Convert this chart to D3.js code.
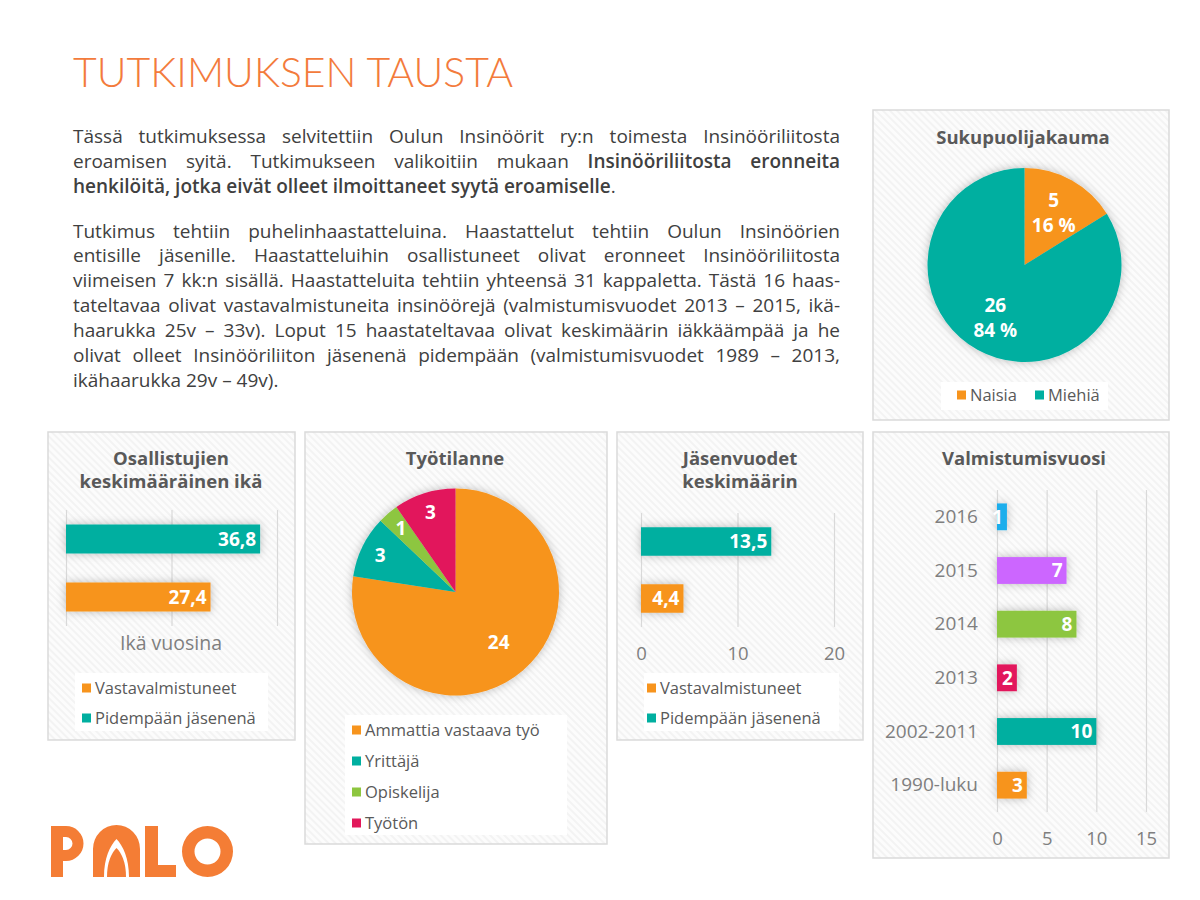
<!DOCTYPE html>
<html>
<head>
<meta charset="utf-8">
<script src="https://cdn.jsdelivr.net/npm/d3@7"></script>
<style>
  body { margin: 0; background: #fff; }
  svg text { font-family: "Open Sans", "DejaVu Sans", sans-serif; }
</style>
</head>
<body>
<svg width="1200" height="900"></svg>
<script>
// data
var genderLabels = ["Naisia", "Miehiä"];
var genderValues = [5, 26];

var jobLabels = ["Ammattia vastaava työ", "Yrittäjä", "Opiskelija", "Työtön"];
var jobValues = [24, 3, 1, 3];

var groupLabels = ["Vastavalmistuneet", "Pidempään jäsenenä"];
var ageValues = [27.4, 36.8];
var memberValues = [4.4, 13.5];

var gradLabels = ["2016", "2015", "2014", "2013", "2002-2011", "1990-luku"];
var gradValues = [1, 7, 8, 2, 10, 3];

var ageTicks = [0, 20, 40],
    memberTicks = [0, 10, 20],
    gradTicks = [0, 5, 10, 15];

var orange = "#F7941D", teal = "#00AFA0", green = "#8DC63F",
    red = "#E2185B", purple = "#CC66FF", blue = "#1CAEEC";
var groupColors = [orange, teal],
    jobColors = [orange, teal, green, red],
    gradColors = [blue, purple, green, red, teal, orange];

var grey = "#595959", logoOrange = "#F47D35";

var svg = d3.select("svg");
var defs = svg.append("defs");

var hatch = defs.append("pattern")
    .attr("id", "hatch")
    .attr("patternUnits", "userSpaceOnUse")
    .attr("width", 5).attr("height", 5)
    .attr("patternTransform", "rotate(-45)");
hatch.append("rect").attr("width", 5).attr("height", 5).attr("fill", "#fcfcfc");
hatch.append("line").attr("x1", 1).attr("x2", 1).attr("y1", 0).attr("y2", 5)
    .attr("stroke", "#f0f0f0").attr("stroke-width", 1.5);

defs.append("filter")
    .attr("id", "shadow")
    .attr("x", "-30%").attr("y", "-40%").attr("width", "160%").attr("height", "180%")
  .append("feDropShadow")
    .attr("dx", 0).attr("dy", 0).attr("stdDeviation", 5)
    .attr("flood-color", "#000").attr("flood-opacity", 0.26);

function fmt(v) { return String(v).replace(".", ","); }

// ---- title + text ----
svg.append("text")
    .attr("x", 73).attr("y", 87)
    .attr("textLength", 440).attr("lengthAdjust", "spacingAndGlyphs")
    .style("font-family", "Lato, 'Open Sans', sans-serif")
    .style("font-weight", 300)
    .style("font-size", "42px")
    .attr("fill", "#F37B3C")
    .text("TUTKIMUKSEN TAUSTA");

var textX = 73, textW = 767;
var textLines = [
  {y: 143, just: true, seg: [["Tässä tutkimuksessa selvitettiin Oulun Insinöörit ry:n toimesta Insinööriliitosta", 0]]},
  {y: 168, just: true, seg: [["eroamisen syitä. Tutkimukseen valikoitiin mukaan ", 0], ["Insinööriliitosta eronneita", 1]]},
  {y: 193, just: false, seg: [["henkilöitä, jotka eivät olleet ilmoittaneet syytä eroamiselle", 1], [".", 0]]},
  {y: 238, just: true, seg: [["Tutkimus tehtiin puhelinhaastatteluina. Haastattelut tehtiin Oulun Insinöörien", 0]]},
  {y: 262, just: true, seg: [["entisille jäsenille. Haastatteluihin osallistuneet olivat eronneet Insinööriliitosta", 0]]},
  {y: 287, just: true, seg: [["viimeisen 7 kk:n sisällä. Haastatteluita tehtiin yhteensä 31 kappaletta. Tästä 16 haas-", 0]]},
  {y: 312, just: true, seg: [["tateltavaa olivat vastavalmistuneita insinöörejä (valmistumisvuodet 2013 – 2015, ikä-", 0]]},
  {y: 337, just: true, seg: [["haarukka 25v – 33v). Loput 15 haastateltavaa olivat keskimäärin iäkkäämpää ja he", 0]]},
  {y: 362, just: true, seg: [["olivat olleet Insinööriliiton jäsenenä pidempään (valmistumisvuodet 1989 – 2013,", 0]]},
  {y: 387, just: false, seg: [["ikähaarukka 29v – 49v).", 0]]}
];

textLines.forEach(function(line) {
  var t = svg.append("text")
      .attr("x", textX).attr("y", line.y)
      .style("font-family", "'Liberation Sans Narrow', 'Open Sans', sans-serif")
      .style("font-size", "19px")
      .attr("fill", "#404040");
  var spaces = 0;
  line.seg.forEach(function(s) {
    t.append("tspan").style("font-weight", s[1] ? 600 : 400).text(s[0]);
    spaces += s[0].split(" ").length - 1;
  });
  if (line.just) {
    var w = t.node().getComputedTextLength();
    if (w < textW) t.attr("word-spacing", (textW - w) / spaces);
    else t.attr("textLength", textW).attr("lengthAdjust", "spacingAndGlyphs");
  }
});

// ---- helpers ----
function panel(x, y, w, h) {
  svg.append("rect")
      .attr("x", x).attr("y", y).attr("width", w).attr("height", h)
      .attr("fill", "url(#hatch)")
      .attr("stroke", "#dadada").attr("stroke-width", 1.5);
}

function chartTitle(cx, y, lines) {
  var t = svg.append("text")
      .attr("text-anchor", "middle")
      .style("font-size", "18.5px").style("font-weight", 700)
      .attr("fill", grey);
  lines.forEach(function(l, i) {
    t.append("tspan").attr("x", cx).attr("y", y + i * 23).text(l);
  });
}

function legend(box, labels, colors, pos) {
  var g = svg.append("g");
  g.append("rect")
      .attr("x", box[0]).attr("y", box[1]).attr("width", box[2]).attr("height", box[3])
      .attr("fill", "#fff");
  var item = g.selectAll(".item")
      .data(labels)
    .enter().append("g")
      .attr("class", "item")
      .attr("transform", function(d, i) { return "translate(" + pos[i][0] + "," + pos[i][1] + ")"; });
  item.append("rect")
      .attr("x", 0).attr("y", -4.5).attr("width", 9).attr("height", 9)
      .attr("fill", function(d, i) { return colors[i]; });
  item.append("text")
      .attr("x", 13).attr("dy", "0.35em")
      .style("font-size", "16.5px")
      .attr("fill", grey)
      .text(function(d) { return d; });
}

function drawPie(cx, cy, r, values, colors, labelR, labelText) {
  var arcs = d3.pie().sort(null)(values);
  var arc = d3.arc().innerRadius(0).outerRadius(r);
  var total = d3.sum(values);
  var g = svg.append("g").attr("transform", "translate(" + cx + "," + cy + ")");
  g.append("g")
      .attr("filter", "url(#shadow)")
    .selectAll("path")
      .data(arcs)
    .enter().append("path")
      .attr("d", arc)
      .attr("fill", function(d, i) { return colors[i]; });
  var lab = g.selectAll(".lab")
      .data(arcs)
    .enter().append("text")
      .attr("class", "lab")
      .attr("transform", function(d) {
        var rr = labelR(d.data / total) * r;
        return "translate(" + d3.arc().innerRadius(rr).outerRadius(rr).centroid(d) + ")";
      })
      .attr("text-anchor", "middle")
      .style("font-size", "19px").style("font-weight", 700)
      .attr("fill", "#fff");
  lab.each(function(d) {
    var lines = labelText(d.data, total);
    var t = d3.select(this);
    lines.forEach(function(l, i) {
      t.append("tspan").attr("x", 0)
          .attr("y", (i - (lines.length - 1) / 2) * 25)
          .attr("dy", "0.35em")
          .text(l);
    });
  });
}

function drawBars(o) {
  var x = d3.scaleLinear().domain([0, o.ticks[o.ticks.length - 1]]).range([o.x0, o.x1]);
  var y = d3.scaleBand().domain(o.labels).range([o.y0, o.y1]).paddingInner(0.5).paddingOuter(0.25);
  var g = svg.append("g");

  var ax = g.append("g")
      .attr("transform", "translate(0," + o.y1 + ")")
      .call(d3.axisBottom(x).tickValues(o.ticks).tickSize(-(o.y1 - o.y0)).tickPadding(20).tickFormat(d3.format("d")));
  ax.select(".domain").remove();
  ax.selectAll("line").attr("stroke", "#d9d9d9").attr("stroke-width", 1.2);
  ax.selectAll("text")
      .style("font-size", "18.5px").style("font-family", "'Open Sans', sans-serif")
      .attr("fill", "#7f7f7f")
      .style("display", o.hideTicks ? "none" : null);

  if (o.showCats) {
    var ay = g.append("g")
        .attr("transform", "translate(" + o.x0 + ",0)")
        .call(d3.axisLeft(y).tickSize(0).tickPadding(19));
    ay.select(".domain").remove();
    ay.selectAll("text")
        .style("font-size", "19px").style("font-family", "'Open Sans', sans-serif")
        .attr("fill", "#7f7f7f");
  }

  g.append("g")
      .attr("filter", "url(#shadow)")
    .selectAll("rect")
      .data(o.values)
    .enter().append("rect")
      .attr("x", x(0))
      .attr("y", function(d, i) { return y(o.labels[i]); })
      .attr("width", function(d) { return x(d) - x(0); })
      .attr("height", y.bandwidth())
      .attr("fill", function(d, i) { return o.colors[i]; });

  g.selectAll(".val")
      .data(o.values)
    .enter().append("text")
      .attr("class", "val")
      .attr("x", function(d) { return x(d) - 4; })
      .attr("y", function(d, i) { return y(o.labels[i]) + y.bandwidth() / 2; })
      .attr("dy", "0.36em")
      .attr("text-anchor", "end")
      .style("font-size", "19px").style("font-weight", 700)
      .attr("fill", "#fff")
      .text(fmt);
}

// ---- Sukupuolijakauma ----
panel(873, 110, 296, 310);
chartTitle(1023, 144, ["Sukupuolijakauma"]);
drawPie(1024.5, 265, 97, genderValues, groupColors,
    function() { return 0.62; },
    function(v, total) { return [String(v), Math.round(v / total * 100) + " %"]; });
legend([941, 382, 167, 28], genderLabels, groupColors, [[957, 395], [1035, 395]]);

// ---- Osallistujien keskimääräinen ikä ----
panel(48, 432, 247, 308);
chartTitle(171, 465, ["Osallistujien", "keskimääräinen ikä"]);
drawBars({
  labels: groupLabels.slice().reverse(), values: ageValues.slice().reverse(),
  colors: groupColors.slice().reverse(), ticks: ageTicks,
  x0: 66, x1: 277, y0: 510, y1: 626, hideTicks: true
});
svg.append("text")
    .attr("x", 171).attr("y", 650)
    .attr("text-anchor", "middle")
    .style("font-size", "19.5px")
    .attr("fill", "#7f7f7f")
    .text("Ikä vuosina");
legend([75, 673, 193, 58], groupLabels, groupColors, [[82, 688], [82, 718]]);

// ---- Työtilanne ----
panel(305, 432, 302, 412);
chartTitle(455, 465, ["Työtilanne"]);
drawPie(455.5, 592, 103.5, jobValues, jobColors,
    function(share) { return share > 0.5 ? 0.64 : 0.81; },
    function(v) { return [String(v)]; });
legend([345, 715, 222, 120], jobLabels, jobColors, [[352, 730], [352, 761], [352, 792], [352, 823]]);

// ---- Jäsenvuodet keskimäärin ----
panel(617, 432, 246, 308);
chartTitle(740, 465, ["Jäsenvuodet", "keskimäärin"]);
drawBars({
  labels: groupLabels.slice().reverse(), values: memberValues.slice().reverse(),
  colors: groupColors.slice().reverse(), ticks: memberTicks,
  x0: 641, x1: 834, y0: 513, y1: 627
});
legend([644, 673, 195, 58], groupLabels, groupColors, [[647, 688], [647, 718]]);

// ---- Valmistumisvuosi ----
panel(873, 432, 296, 426);
chartTitle(1024, 465, ["Valmistumisvuosi"]);
drawBars({
  labels: gradLabels, values: gradValues, colors: gradColors, ticks: gradTicks,
  x0: 997, x1: 1146, y0: 490, y1: 812, showCats: true
});

// ---- PALO logo ----
var logo = svg.append("g").attr("fill", logoOrange);
logo.append("path")
    .attr("fill-rule", "evenodd")
    .attr("d", "M51,877 V826 H66 A17.5,17.5 0 0 1 66,861 H63 V877 Z M63,837 V850 H66 A6.5,6.5 0 0 0 66,837 Z");
logo.append("path")
    .attr("fill-rule", "evenodd")
    .attr("d", "M93,877 V849 A23.5,24 0 0 1 140,849 V877 Z M104,877 C104,858 110,846 116.5,839 C123,846 129,858 129,877 Z");
logo.append("path")
    .attr("d", "M107,877 C107,862 111.5,853 116.5,848 C121.5,853 126,862 126,877 Z");
logo.append("path")
    .attr("d", "M145,826 H158 V865 H176 V877 H145 Z");
logo.append("path")
    .attr("fill-rule", "evenodd")
    .attr("d", "M182,851.5 A25.5,25.5 0 1 0 233,851.5 A25.5,25.5 0 1 0 182,851.5 Z M194.5,851.5 A13,13 0 1 0 220.5,851.5 A13,13 0 1 0 194.5,851.5 Z");
</script>
</body>
</html>
